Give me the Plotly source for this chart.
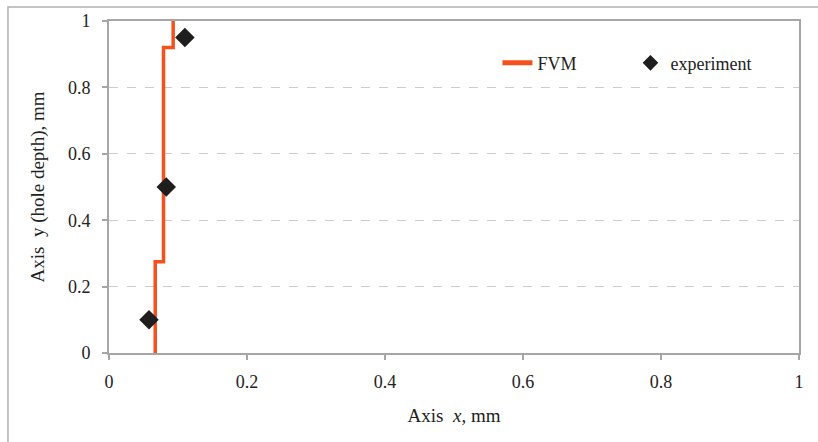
import plotly.graph_objects as go

# FVM step profile
fvm_x = [0.067, 0.067, 0.079, 0.079, 0.093, 0.093]
fvm_y = [0.0, 0.275, 0.275, 0.92, 0.92, 1.0]

# experiment points
exp_x = [0.058, 0.083, 0.11]
exp_y = [0.10, 0.50, 0.95]

x_ticks = [0, 0.2, 0.4, 0.6, 0.8, 1]
y_ticks = [0, 0.2, 0.4, 0.6, 0.8, 1]

font = "Liberation Serif, Times New Roman, serif"
axcol = "#a6a6a6"

fig = go.Figure()
fig.add_trace(go.Scatter(x=fvm_x, y=fvm_y, mode="lines", name="FVM",
                         line=dict(color="#f4511e", width=3.5),
                         cliponaxis=False))
fig.add_trace(go.Scatter(x=exp_x, y=exp_y, mode="markers", name="experiment",
                         marker=dict(symbol="diamond", size=15, color="#1e1e1e"),
                         cliponaxis=False))

fig.update_layout(
    width=818, height=442,
    margin=dict(l=109, r=19, t=21, b=89),
    paper_bgcolor="white", plot_bgcolor="white",
    font=dict(family=font, size=18, color="#222222"),
    showlegend=True,
    legend=dict(orientation="h", x=0.563, y=0.873, xanchor="left", yanchor="middle",
                bgcolor="rgba(0,0,0,0)", font=dict(size=18), entrywidth=88,
                itemwidth=30, itemsizing="constant"),
    xaxis=dict(range=[0, 1], tickvals=x_ticks, ticktext=[f"{v:g}" for v in x_ticks],
               showgrid=False, zeroline=False, showline=True, linecolor=axcol,
               linewidth=2, mirror=True, ticks="outside", ticklen=5, tickcolor=axcol,
               tickwidth=1.5, ticklabelstandoff=6,
               title=dict(text="Axis\u00a0\u00a0<i>x</i>, mm", standoff=18, font=dict(size=19))),
    yaxis=dict(range=[0, 1], tickvals=y_ticks, ticktext=[f"{v:g}" for v in y_ticks],
               showgrid=True, gridcolor="#cccccc", griddash="dash", gridwidth=1,
               zeroline=False, showline=True, linecolor=axcol,
               linewidth=2, mirror=True, ticks="outside", ticklen=5, tickcolor=axcol,
               tickwidth=1.5, ticklabelstandoff=8,
               title=dict(text="Axis\u00a0\u00a0y (hole depth), mm", standoff=18, font=dict(size=19))),
)

# outer chart border
fig.add_shape(type="rect", xref="paper", yref="paper",
              x0=-0.1464, x1=1.1, y0=-0.4, y1=1.042,
              line=dict(color="#b0b0b0", width=1.5), layer="below")

fig.write_html("out.html")
